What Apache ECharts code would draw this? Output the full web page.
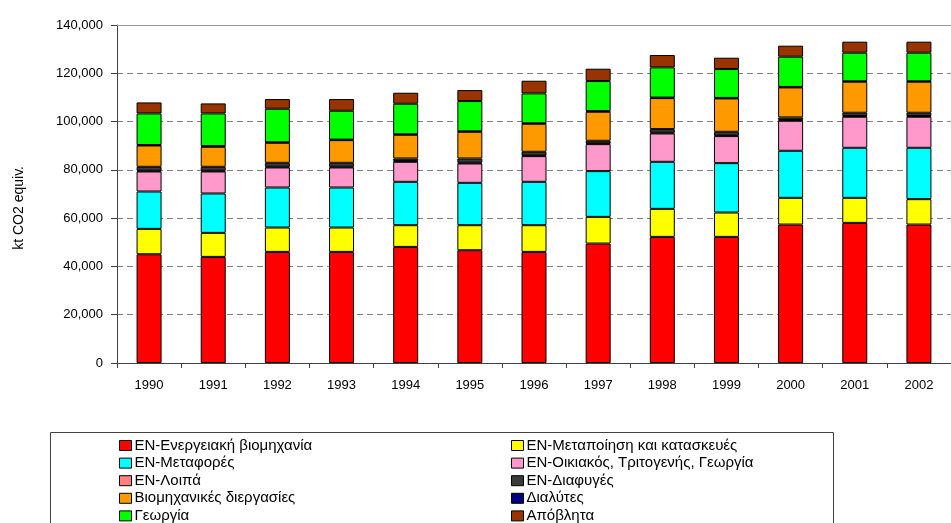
<!DOCTYPE html>
<html>
<head>
<meta charset="utf-8">
<script src="https://cdn.jsdelivr.net/npm/echarts@6/dist/echarts.min.js"></script>
<style>
html,body{margin:0;padding:0;background:#fff;}
#chart{width:951px;height:523px;}
</style>
</head>
<body>
<div id="chart"></div>
<script>
const years = ['1990','1991','1992','1993','1994','1995','1996','1997','1998','1999','2000','2001','2002'];
const energyIndustry = [45050,43950,46020,46020,48090,46710,46020,49480,52240,52240,57350,58040,57350];
const manufacturing  = [10510,9950,10090,10090,8990,10370,11060,11050,11610,10090,11060,10370,10510];
const transport      = [15470,16310,16580,16580,17960,17550,17960,18940,19480,20450,19490,20730,21280];
const residential    = [8300,9120,8300,8300,8290,8010,10640,11190,11750,11200,12430,12850,12850];
const otherEnergy    = [300,300,300,300,300,300,300,300,300,300,300,300,300];
const fugitive       = [1630,1630,1630,1630,1090,1780,1500,1080,1500,1490,1090,1360,1360];
const industrial     = [8840,8290,8290,9400,9810,11050,11610,12020,12850,13820,12430,12850,12850];
const solvents       = [200,300,200,200,200,200,200,300,200,200,200,200,200];
const agriculture    = [13070,13520,13900,11960,12650,12520,12380,12420,12520,11960,12520,11830,11830];
const waste          = [4560,4150,4010,4840,4560,4560,5250,5110,5110,4700,4560,4560,4560];
const yTicks = [0,20000,40000,60000,80000,100000,120000,140000];

const seriesDefs = [
  ['ΕΝ-Ενεργειακή βιομηχανία', energyIndustry, '#FF0000'],
  ['ΕΝ-Μεταποίηση και κατασκευές', manufacturing, '#FFFF00'],
  ['ΕΝ-Μεταφορές', transport, '#00FFFF'],
  ['ΕΝ-Οικιακός, Τριτογενής, Γεωργία', residential, '#FF99CC'],
  ['ΕΝ-Λοιπά', otherEnergy, '#FF8080'],
  ['ΕΝ-Διαφυγές', fugitive, '#3A3A3A'],
  ['Βιομηχανικές διεργασίες', industrial, '#FF9900'],
  ['Διαλύτες', solvents, '#000080'],
  ['Γεωργία', agriculture, '#00FF00'],
  ['Απόβλητα', waste, '#993300']
];

const FONT = 'Liberation Sans, Arial, sans-serif';
const chart = echarts.init(document.getElementById('chart'), null, {renderer:'canvas'});

const series = seriesDefs.map(([name, data, color]) => ({
  name, type:'bar', stack:'total', data, barWidth:25,
  itemStyle:{color, borderColor:'#000', borderWidth:1},
  emphasis:{disabled:true}, animation:false
}));

const legendCommon = {
  orient:'vertical', itemWidth:12, itemHeight:10, itemGap:2.6,
  icon:'rect', selectedMode:false, padding:0, height:100, width:320,
  textStyle:{fontFamily:FONT, fontSize:15, color:'#000', lineHeight:13, padding:[0,0,0,-2]},
  itemStyle:{borderColor:'#000', borderWidth:1}
};

chart.setOption({
  backgroundColor:'#fff',
  animation:false,
  grid:{left:117, top:25, width:844, height:338, containLabel:false},
  xAxis:[{
    type:'category', data:years, position:'bottom',
    axisLine:{lineStyle:{color:'#404040', width:1}},
    axisTick:{show:true, length:5, inside:false, lineStyle:{color:'#404040'}},
    axisLabel:{fontFamily:FONT, fontSize:13, color:'#000', margin:16}
  },{
    type:'category', data:years, position:'top',
    axisLine:{show:true, lineStyle:{color:'#999', width:1}},
    axisTick:{show:false}, axisLabel:{show:false}
  }],
  yAxis:{
    type:'value', min:yTicks[0], max:yTicks[yTicks.length-1], interval:yTicks[1]-yTicks[0],
    axisLine:{show:true, lineStyle:{color:'#404040', width:1}},
    axisTick:{show:true, length:6, lineStyle:{color:'#404040'}},
    axisLabel:{fontFamily:FONT, fontSize:13, color:'#000', margin:14,
      formatter:v=>v.toLocaleString('en-US')},
    splitLine:{show:true, lineStyle:{color:'#808080', type:[6,4], width:1}}
  },
  legend:[
    Object.assign({left:119, top:438, data:[seriesDefs[0][0],seriesDefs[2][0],seriesDefs[4][0],seriesDefs[6][0],seriesDefs[8][0]]}, legendCommon),
    Object.assign({left:511, top:438, data:[seriesDefs[1][0],seriesDefs[3][0],seriesDefs[5][0],seriesDefs[7][0],seriesDefs[9][0]]}, legendCommon)
  ],
  graphic:[
    {type:'rect', left:50, top:432, z:-1, shape:{width:783, height:120},
     style:{fill:'#fff', stroke:'#404040', lineWidth:1}},
    {type:'text', left:12, top:166, rotation:Math.PI/2,
     style:{text:'kt CO2 equiv.', font:'14px Liberation Sans, Arial, sans-serif', fill:'#000'}}
  ],
  series
});
</script>
</body>
</html>
